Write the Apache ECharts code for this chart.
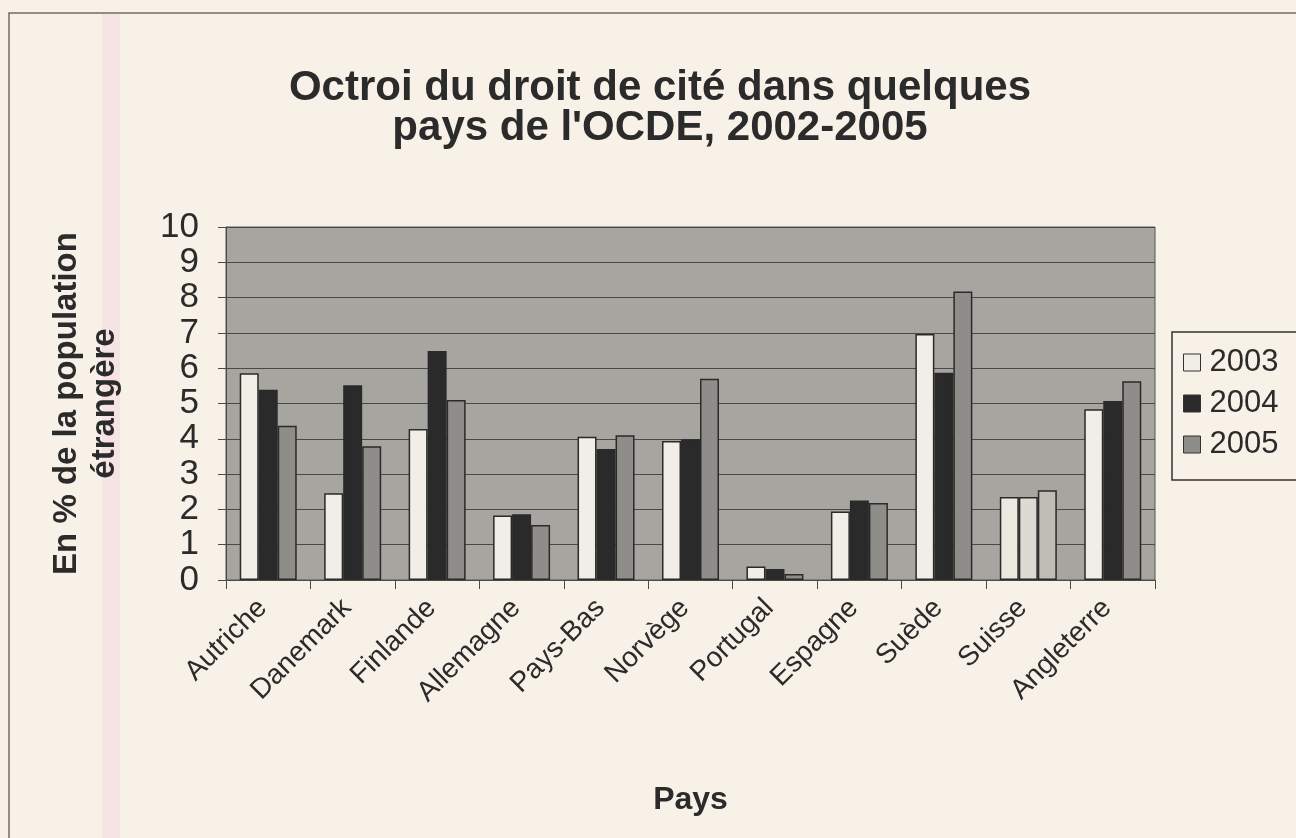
<!DOCTYPE html>
<html>
<head>
<meta charset="utf-8">
<script src="https://cdn.jsdelivr.net/npm/echarts@6/dist/echarts.min.js"></script>
<style>
html,body{margin:0;padding:0;background:#f8f1e8;}
#c{width:1296px;height:838px;}
</style>
</head>
<body>
<div id="c"></div>
<script>
const categories = ['Autriche','Danemark','Finlande','Allemagne','Pays-Bas','Norvège','Portugal','Espagne','Suède','Suisse','Angleterre'];
const seriesNames = ['2003','2004','2005'];
const v2003 = [5.86, 2.46, 4.28, 1.83, 4.06, 3.94, 0.38, 1.94, 6.97, 2.35, 4.84];
const v2004 = [5.39, 5.52, 6.49, 1.86, 3.71, 3.99, 0.31, 2.25, 5.87, 2.35, 5.07];
const v2005 = [4.37, 3.79, 5.10, 1.56, 4.10, 5.70, 0.17, 2.18, 8.17, 2.54, 5.63];
const yTicks = [0,1,2,3,4,5,6,7,8,9,10];

const colors = ['#f1eee7', '#2a2a2a', '#8f8d89'];
// Suisse bars in the scan appear lighter
const overrides = {'Suisse': ['#ebe8e0', '#dcdad2', '#c0bdb6']};

function makeData(vals, si) {
  return vals.map((v, i) => {
    const o = overrides[categories[i]];
    return o ? {value: v, itemStyle: {color: o[si]}} : v;
  });
}

const chart = echarts.init(document.getElementById('c'));
const valsList = [v2003, v2004, v2005];
chart.setOption({
  backgroundColor: '#f8f1e8',
  animation: false,
  title: {
    text: "Octroi du droit de cité dans quelques\npays de l'OCDE, 2002-2005",
    left: 660, textAlign: 'center', top: 68, padding: 0,
    textStyle: {fontFamily: 'Liberation Sans', fontWeight: 'bold', fontSize: 42, color: '#2b2b2b', lineHeight: 40}
  },
  graphic: [
    {type: 'rect', shape: {x: 102, y: 14, width: 18, height: 824}, style: {fill: '#f6e3e4'}, silent: true, z: -10},
    {type: 'rect', shape: {x: 9, y: 13, width: 1300, height: 830}, style: {fill: 'none', stroke: '#6d6d66', lineWidth: 1.5}, silent: true},
    {type: 'rect', shape: {x: 1172, y: 332, width: 130, height: 148}, style: {fill: '#f8f1e8', stroke: '#333', lineWidth: 1.5}, silent: true, z: 5}
  ],
  legend: {
    orient: 'vertical', left: 1178, top: 342,
    itemWidth: 17, itemHeight: 17, itemGap: 10,
    icon: 'rect',
    textStyle: {fontFamily: 'Liberation Sans', fontSize: 31, color: '#2b2b2b', padding: [0,0,0,4]},
    data: seriesNames.map((n, i) => ({name: n, itemStyle: {color: colors[i], borderColor: '#333', borderWidth: 1}})),
    z: 10
  },
  grid: {left: 226, right: 141, top: 227, bottom: 258, show: true, backgroundColor: '#a7a5a0', borderColor: '#55554f', borderWidth: 1},
  xAxis: {
    type: 'category', data: categories,
    name: 'Pays', nameLocation: 'middle', nameGap: 204,
    nameTextStyle: {fontFamily: 'Liberation Sans', fontWeight: 'bold', fontSize: 32, color: '#2b2b2b'},
    axisLine: {lineStyle: {color: '#4a4a46', width: 1}},
    axisTick: {show: true, length: 9, lineStyle: {color: '#4a4a46'}},
    axisLabel: {rotate: 45, interval: 0, fontFamily: 'Liberation Sans', fontSize: 28, color: '#2b2b2b', margin: 18, padding: [0, 8, 0, 0]}
  },
  yAxis: {
    type: 'value', min: 0, max: 10, interval: 1,
    name: 'En % de la population\nétrangère', nameLocation: 'middle', nameGap: 102, nameRotate: 90,
    nameTextStyle: {fontFamily: 'Liberation Sans', fontWeight: 'bold', fontSize: 33, color: '#2b2b2b', lineHeight: 38},
    axisLine: {show: true, lineStyle: {color: '#4a4a46'}},
    axisTick: {show: true, length: 8, lineStyle: {color: '#4a4a46'}},
    axisLabel: {fontFamily: 'Liberation Sans', fontSize: 35, color: '#2b2b2b', margin: 27,
      formatter: v => yTicks.includes(v) ? String(v) : ''},
    splitLine: {show: true, lineStyle: {color: '#4a4a45', width: 1.2}}
  },
  series: valsList.map((vals, si) => ({
    name: seriesNames[si], type: 'bar', data: makeData(vals, si),
    barWidth: 19, barGap: '0%',
    itemStyle: {color: colors[si], borderColor: '#2a2a2a', borderWidth: 1.5}
  }))
});
</script>
</body>
</html>
